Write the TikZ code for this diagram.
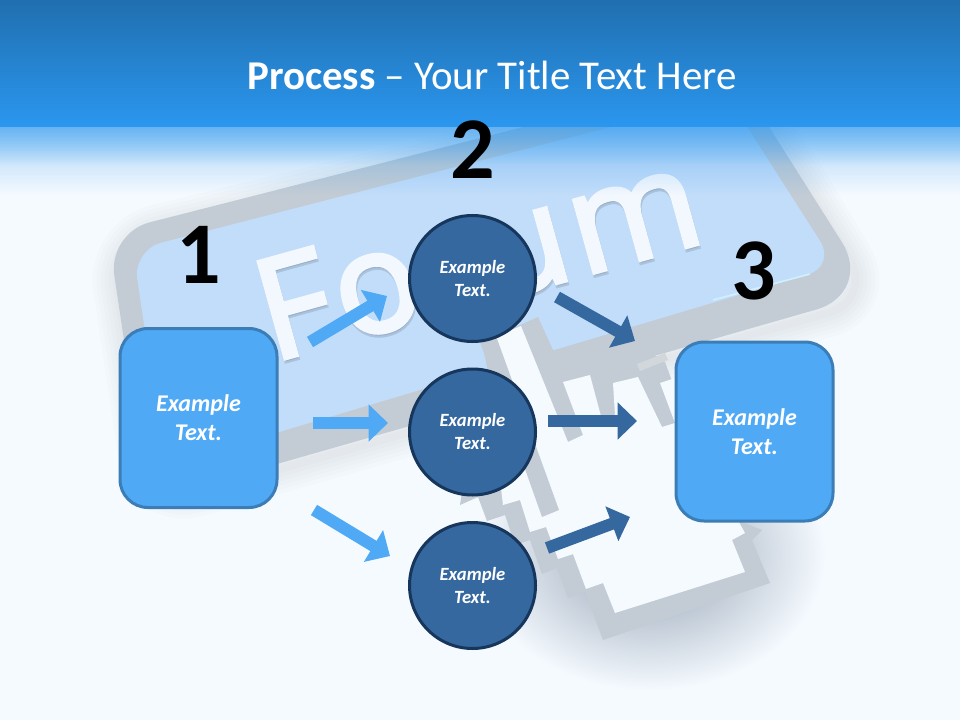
\documentclass[tikz,border=0pt]{standalone}
\usepackage{fontspec}
\setmainfont{Carlito}
\newfontfamily\forumfont[FakeBold=3,LetterSpace=4]{Open Sans}
\usetikzlibrary{arrows.meta,fadings}
\definecolor{bgc}{HTML}{F5FAFF}
\definecolor{bandtop}{HTML}{206FB0}
\definecolor{bandbot}{HTML}{2B97EF}
\definecolor{keygray}{HTML}{C3CCD5}
\definecolor{keyblue}{HTML}{C2DDFA}
\definecolor{keyglow}{HTML}{D0F0FF}
\definecolor{lightb}{HTML}{4FA9F5}
\definecolor{lightedge}{HTML}{3B7DB6}
\definecolor{darkb}{HTML}{35689F}
\definecolor{darkedge}{HTML}{16365C}
\definecolor{forumc}{HTML}{F3F8FE}
\definecolor{shadec}{HTML}{6F8198}
\tikzfading[name=fadedown,top color=transparent!0,bottom color=transparent!100]
\tikzfading[name=softblob,inner color=transparent!0,outer color=transparent!100]
\tikzset{
  x=0.75pt,y=-0.75pt,
  flowbox/.style={draw=lightedge,line width=2.25pt,fill=lightb,rounded corners=21pt,minimum width=117.75pt,minimum height=134.25pt,inner sep=0pt,align=center,text=white,font=\fontsize{18}{21.75}\selectfont\bfseries\itshape},
  flowcirc/.style={draw=darkedge,line width=2.25pt,fill=darkb,circle,minimum size=94.5pt,inner sep=0pt,align=center,text=white,font=\fontsize{14}{17.25}\selectfont\bfseries\itshape},
  bignum/.style={text=black,font=\fontsize{66}{66}\selectfont\bfseries,inner sep=0pt},
  lightarrow/.style={draw=lightb,line width=9pt,-{Triangle[length=14.5pt,width=27pt]}},
  darkarrow/.style={draw=darkb,line width=9pt,-{Triangle[length=14.5pt,width=27pt]}},
  softshade/.style={draw=black!50,opacity=0.02,line join=round},
}
\begin{document}
\begin{tikzpicture}
\useasboundingbox (0,0) rectangle (960,720);
\fill[bgc] (0,0) rectangle (960,720);
% soft shadows
\foreach \w in {6,12,...,36}{
  \path[softshade,line width=\w pt,rounded corners=36pt] (110,240) -- (745,85) -- (874,300) -- (150,506) -- cycle;
}
\fill[shadec,opacity=0.75,path fading=softblob] (650,555) ellipse [x radius=175,y radius=135];
% key
\fill[keygray] [rounded corners=32pt] (108,233) -- (735,73) [rounded corners=45pt] -- (874,293) [rounded corners=32pt] -- (148,501) -- cycle;
\fill[keyblue,rounded corners=22pt] (133,250) -- (728,97) -- (836,266) -- (165,466) -- cycle;
\draw[keyglow,line width=1.2pt] (713,300) -- (810,274);
% word
\node[anchor=base west,rotate=15.5,inner sep=0pt,text=black!40!keyblue,opacity=0.3,font=\forumfont\fontsize{105}{105}\selectfont] (forumshadow) at (273,365) {Forum};
\node[anchor=base west,rotate=15.5,inner sep=0pt,text=forumc,font=\forumfont\fontsize{105}{105}\selectfont] (forumword) at (272,362) {Forum};
% cursor
\fill[keygray] (482,342) -- (538,317) -- (553,350) -- (640,345) -- (665,362) -- (690,430) -- (742,522) -- (762,530) -- (752,540) -- (770,583) -- (603,640) -- (585,592) -- (568,598) -- (557,568) -- (542,574) -- (530,540) -- (515,545) -- (505,515) -- (487,521) -- (478,497) -- (460,505) -- (470,440) -- (488,372) -- cycle;
\fill[bgc] (496,336) -- (521,326) -- (568,442) -- (583,435) -- (563,382) -- (590,375) -- (602,420) -- (615,415) -- (613,383) -- (638,377) -- (662,427) -- (675,423) -- (660,383) -- (675,378) -- (700,440) -- (735,515) -- (745,533) -- (732,540) -- (745,572) -- (615,613) -- (603,583) -- (586,589) -- (573,554) -- (558,559) -- (546,527) -- (530,532) -- (520,500) -- (503,505) -- (500,480) -- cycle;
\fill[keygray] (480,342) -- (496,336) -- (559,510) -- (542,517) -- cycle;
\fill[black!8!keygray!60!white] (637,364) -- (665,353) -- (668,360) -- (640,371) -- cycle;
% header band
\shade[top color=bandtop,bottom color=bandbot] (0,0) rectangle (960,127);
\fill[bandbot,opacity=0.5,path fading=fadedown] (0,127) rectangle (960,165);
\fill[bandbot,opacity=0.4,path fading=fadedown] (0,127) rectangle (960,195);
\node[text=white,inner sep=0pt,font=\fontsize{30.7}{36}\selectfont] (title) at (492,75) {\textbf{Process} – Your Title Text Here};
% numbers
\node[bignum] (num1) at (198.5,255) {1};
\node[bignum] (num2) at (472.5,150) {2};
\node[bignum] (num3) at (753.5,271) {3};
% nodes
\node[flowbox] (boxa) at (198.5,418) {Example\\Text.};
\node[flowbox] (boxb) at (754.5,431.5) {Example\\Text.};
\node[flowcirc] (cira) at (472.5,278.5) {Example\\Text.};
\node[flowcirc] (cirb) at (472.5,432) {Example\\Text.};
\node[flowcirc] (circ) at (472.5,585.5) {Example\\Text.};
% connector ends
\coordinate (a1s) at (310,342); \coordinate (a1e) at (387,296);
\coordinate (a2s) at (313,423); \coordinate (a2e) at (388,423);
\coordinate (a3s) at (314,510); \coordinate (a3e) at (390,556);
\coordinate (b1s) at (557,297); \coordinate (b1e) at (635,341);
\coordinate (b2s) at (548,421); \coordinate (b2e) at (637,421);
\coordinate (b3s) at (547,548); \coordinate (b3e) at (630,517);
\draw[lightarrow] (a1s) -- (a1e);
\draw[lightarrow] (a2s) -- (a2e);
\draw[lightarrow] (a3s) -- (a3e);
\draw[darkarrow] (b1s) -- (b1e);
\draw[darkarrow] (b2s) -- (b2e);
\draw[darkarrow] (b3s) -- (b3e);
\end{tikzpicture}
\end{document}
